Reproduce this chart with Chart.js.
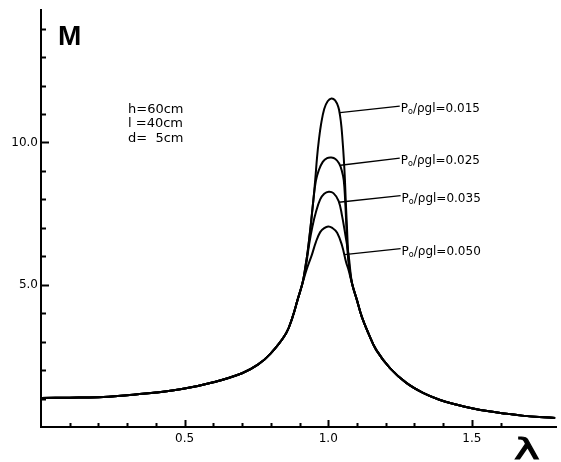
<!DOCTYPE html>
<html>
<head>
<meta charset="utf-8">
<title>M - λ</title>
<script src="https://cdn.jsdelivr.net/npm/chart.js@4.4.1/dist/chart.umd.min.js"></script>
<style>
  html, body { margin: 0; padding: 0; background: #fff; }
  #wrap { width: 561px; height: 462px; }
</style>
</head>
<body>
<div id="wrap"><canvas id="respChart" width="561" height="462"></canvas></div>
<script>
// flanks where all four curves lie on top of each other
const lamLeft = [0, 0.1, 0.2, 0.3, 0.4, 0.5, 0.6, 0.7, 0.755, 0.8, 0.853, 0.876, 0.893, 0.910];
const mLeft = [1.02, 1.03, 1.05, 1.12, 1.21, 1.35, 1.57, 1.89, 2.19, 2.59, 3.29, 3.87, 4.46, 5.04];
const lamRight = [1.083, 1.100, 1.117, 1.140, 1.167, 1.215, 1.272, 1.330, 1.387, 1.445, 1.500, 1.560, 1.620, 1.675, 1.735, 1.790];
const mRight = [5.04, 4.46, 3.87, 3.29, 2.71, 2.07, 1.55, 1.20, 0.96, 0.79, 0.66, 0.55, 0.47, 0.40, 0.35, 0.32];

// peak part of each curve, one per P0/ρgl
const ratios = ['0.015', '0.025', '0.035', '0.050'];
const lamPeak015 = [0.920, 0.929, 0.939, 0.948, 0.955, 0.961, 0.967, 0.975, 0.986, 0.998, 1.011, 1.024, 1.035, 1.041, 1.046, 1.050, 1.054, 1.058, 1.061, 1.065, 1.069, 1.074];
const mPeak015 = [5.60, 6.21, 7.08, 7.95, 8.72, 9.47, 10.05, 10.64, 11.18, 11.45, 11.55, 11.48, 11.25, 10.95, 10.55, 10.05, 9.47, 8.72, 7.95, 7.08, 6.21, 5.60];
const lamPeak025 = [0.920, 0.929, 0.939, 0.948, 0.957, 0.967, 0.981, 0.996, 1.011, 1.025, 1.038, 1.047, 1.054, 1.059, 1.063, 1.067, 1.073];
const mPeak025 = [5.60, 6.21, 7.08, 7.95, 8.65, 9.02, 9.32, 9.45, 9.47, 9.42, 9.26, 9.02, 8.68, 7.95, 7.08, 6.21, 5.58];
const lamPeak035 = [0.921, 0.934, 0.945, 0.957, 0.972, 0.986, 1.002, 1.018, 1.036, 1.048, 1.060, 1.071];
const mPeak035 = [5.57, 6.45, 7.05, 7.55, 8.00, 8.20, 8.27, 8.22, 7.95, 7.43, 6.73, 6.03];
const lamPeak050 = [0.926, 0.943, 0.957, 0.972, 0.986, 1.000, 1.014, 1.031, 1.048, 1.062, 1.071];
const mPeak050 = [5.57, 6.05, 6.50, 6.85, 6.99, 7.05, 7.00, 6.83, 6.38, 5.80, 5.51];

const xTickLabels = ['0.5', '1.0', '1.5'];
const yTickLabels = ['5.0', '10.0'];
const params = ['h=60cm', 'l =40cm', 'd=  5cm'];

const FONT = 'DejaVu Sans';

function curve(lamPeak, mPeak) {
    const lam = lamLeft.concat(lamPeak, lamRight);
    const m = mLeft.concat(mPeak, mRight);
    return lam.map((x, i) => ({ x: x, y: m[i] }));
}

// tick marks point into the plot, so they are drawn here instead of by the grid
const insideTicks = {
    id: 'insideTicks',
    afterDraw(chart) {
        const ctx = chart.ctx;
        const xs = chart.scales.x, ys = chart.scales.y;
        const area = chart.chartArea;
        ctx.save();
        ctx.strokeStyle = '#000';
        ctx.lineWidth = 2;
        xs.ticks.forEach(t => {
            const k = Math.round(t.value * 10);
            if (k === 0 || Math.abs(t.value * 10 - k) > 1e-6) return;
            const px = Math.round(xs.getPixelForValue(t.value)) + 0.5;
            const len = k % 5 === 0 ? 7 : 4;
            ctx.beginPath();
            ctx.moveTo(px, area.bottom);
            ctx.lineTo(px, area.bottom - len);
            ctx.stroke();
        });
        ys.ticks.forEach(t => {
            const k = Math.round(t.value);
            if (k === 0 || Math.abs(t.value - k) > 1e-6) return;
            const py = Math.round(ys.getPixelForValue(t.value)) + 0.5;
            const major = k % 5 === 0;
            ctx.beginPath();
            ctx.moveTo(area.left, py);
            ctx.lineTo(area.left + (major ? 8 : 5), py);
            ctx.stroke();
        });
        ctx.restore();
    }
};

// curve labels with leader lines, parameter block and axis letters
const annotations = {
    id: 'annotations',
    afterDatasetsDraw(chart) {
        const ctx = chart.ctx;
        const xs = chart.scales.x, ys = chart.scales.y;
        const area = chart.chartArea;
        const leaders = [
            { from: [1.041, 11.05], to: [1.249, 11.28] },
            { from: [1.043, 9.20], to: [1.249, 9.45] },
            { from: [1.037, 7.90], to: [1.252, 8.13] },
            { from: [1.056, 6.06], to: [1.252, 6.27] }
        ];
        ctx.save();
        ctx.strokeStyle = '#000';
        ctx.fillStyle = '#000';
        ctx.lineWidth = 1.3;
        ctx.textBaseline = 'middle';
        leaders.forEach((l, i) => {
            const x1 = xs.getPixelForValue(l.from[0]), y1 = ys.getPixelForValue(l.from[1]);
            const x2 = xs.getPixelForValue(l.to[0]), y2 = ys.getPixelForValue(l.to[1]);
            ctx.beginPath();
            ctx.moveTo(x1, y1);
            ctx.lineTo(x2, y2);
            ctx.stroke();
            let tx = x2 + 1;
            const ty = y2 + 3;
            ctx.font = '12px ' + FONT;
            ctx.fillText('P', tx, ty);
            tx += ctx.measureText('P').width;
            ctx.font = '8px ' + FONT;
            ctx.fillText('o', tx, ty + 3);
            tx += ctx.measureText('o').width;
            ctx.font = '12px ' + FONT;
            ctx.fillText('/ρgl=' + ratios[i], tx, ty);
        });

        ctx.font = '13px ' + FONT;
        ctx.textAlign = 'left';
        params.forEach((p, i) => {
            ctx.fillText(p, xs.getPixelForValue(0.303), ys.getPixelForValue(11.17 - i * 0.51));
        });

        ctx.textBaseline = 'alphabetic';
        ctx.font = 'bold 28px "Liberation Sans"';
        ctx.fillText('M', area.left + 17, area.top + 35);

        // the lambda is wide and hand-lettered, so stretch it and thicken the stroke a bit
        ctx.translate(area.right - 42, area.bottom + 32);
        ctx.scale(1.55, 1);
        ctx.font = '28px ' + FONT;
        ctx.lineWidth = 0.9;
        ctx.fillText('λ', 0, 0);
        ctx.strokeText('λ', 0, 0);
        ctx.restore();
    }
};

document.addEventListener('DOMContentLoaded', function () {

    const ctx = document.getElementById('respChart').getContext('2d');
    new Chart(ctx, {
        type: 'line',
        data: {
            datasets: [
                { label: ratios[0], data: curve(lamPeak015, mPeak015) },
                { label: ratios[1], data: curve(lamPeak025, mPeak025) },
                { label: ratios[2], data: curve(lamPeak035, mPeak035) },
                { label: ratios[3], data: curve(lamPeak050, mPeak050) }
            ].map(d => Object.assign(d, {
                borderColor: '#000',
                borderWidth: 2,
                pointRadius: 0,
                fill: false,
                tension: 0.4
            }))
        },
        options: {
            responsive: false,
            animation: false,
            layout: { padding: { top: 8, right: 0, left: 0, bottom: 0 } },
            plugins: {
                legend: { display: false },
                tooltip: { enabled: false }
            },
            scales: {
                x: {
                    type: 'linear',
                    min: 0,
                    max: 1.793,
                    afterFit: s => { s.height = 35; },
                    grid: { drawOnChartArea: false, drawTicks: false },
                    border: { display: true, color: '#000', width: 2 },
                    ticks: {
                        stepSize: 0.1,
                        autoSkip: false,
                        maxRotation: 0,
                        padding: 5,
                        color: '#000',
                        font: { family: FONT, size: 12 },
                        callback: v => {
                            const s = Number(v).toFixed(1);
                            return xTickLabels.includes(s) ? s : '';
                        }
                    }
                },
                y: {
                    min: 0,
                    max: 14.65,
                    afterFit: s => { s.width = 41; },
                    grid: { drawOnChartArea: false, drawTicks: false },
                    border: { display: true, color: '#000', width: 2 },
                    ticks: {
                        stepSize: 1,
                        autoSkip: false,
                        padding: 3,
                        color: '#000',
                        font: { family: FONT, size: 12 },
                        callback: v => {
                            const s = Number(v).toFixed(1);
                            return yTickLabels.includes(s) ? s : '';
                        }
                    }
                }
            }
        },
        plugins: [insideTicks, annotations]
    });

});
</script>
</body>
</html>
